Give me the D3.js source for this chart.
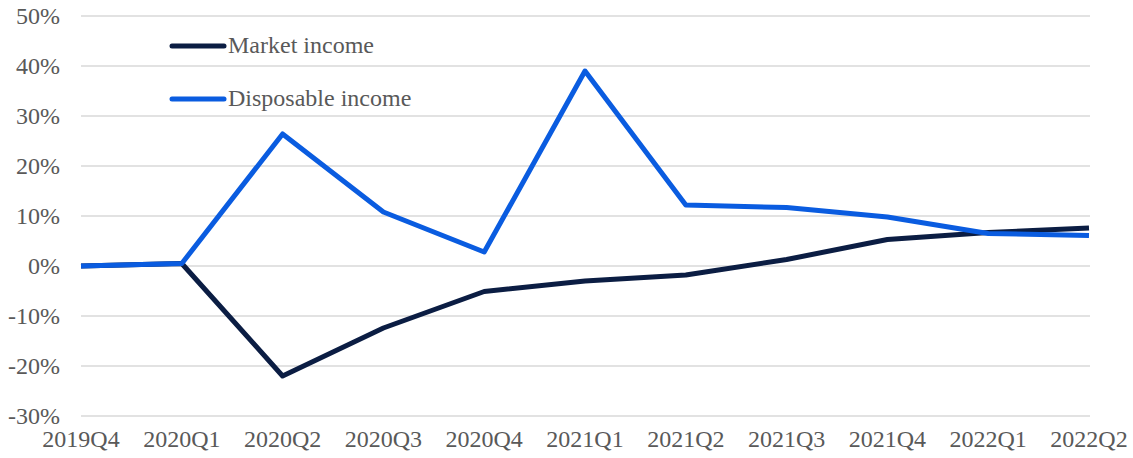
<!DOCTYPE html>
<html>
<head>
<meta charset="utf-8">
<script src="https://cdn.jsdelivr.net/npm/d3@7"></script>
<style>
  body { margin: 0; background: #fff; }
  svg text { font-family: "Liberation Serif", "Times New Roman", serif; fill: #595959; }
</style>
</head>
<body>
<svg id="chart" width="1133" height="458"></svg>
<script>
const quarters = ['2019Q4', '2020Q1', '2020Q2', '2020Q3', '2020Q4', '2021Q1', '2021Q2', '2021Q3', '2021Q4', '2022Q1', '2022Q2'];
const market_income = [0, 0.5, -22, -12.4, -5.1, -3, -1.8, 1.3, 5.3, 6.7, 7.6];
const disposable_income = [0, 0.5, 26.4, 10.8, 2.8, 39, 12.2, 11.7, 9.8, 6.5, 6.1];
const y_ticks = [-30, -20, -10, 0, 10, 20, 30, 40, 50];

const svg = d3.select('#chart');
const xScale = d3.scalePoint().domain(quarters).range([81, 1089]);
const yScale = d3.scaleLinear().domain([-30, 50]).range([416, 16]);

// gridlines
svg.append('g').selectAll('line').data(y_ticks).enter().append('line')
  .attr('x1', 81).attr('x2', 1090)
  .attr('y1', d => yScale(d)).attr('y2', d => yScale(d))
  .attr('stroke', '#d9d9d9').attr('stroke-width', 1.3);

// y labels
svg.append('g').selectAll('text').data(y_ticks).enter().append('text')
  .attr('x', 60).attr('y', d => yScale(d) + 8)
  .attr('text-anchor', 'end').attr('font-size', 24)
  .text(d => d + '%');

// x labels
svg.append('g').selectAll('text').data(quarters).enter().append('text')
  .attr('x', d => xScale(d)).attr('y', 447)
  .attr('text-anchor', 'middle').attr('font-size', 24)
  .text(d => d);

const series = [
  {name: 'Market income', values: market_income, color: '#0b1d43'},
  {name: 'Disposable income', values: disposable_income, color: '#0a5ce0'}
];

const line = d3.line()
  .x((d, i) => xScale(quarters[i]))
  .y(d => yScale(d));

// market first, disposable on top (as in the reference)
svg.append('path').datum(market_income)
  .attr('d', line).attr('fill', 'none')
  .attr('stroke', series[0].color).attr('stroke-width', 5).attr('stroke-linejoin', 'round');
svg.append('path').datum(disposable_income)
  .attr('d', line).attr('fill', 'none')
  .attr('stroke', series[1].color).attr('stroke-width', 5).attr('stroke-linejoin', 'round');

// legend
const legend = svg.append('g').selectAll('g').data(series).enter().append('g')
  .attr('transform', (d, i) => 'translate(0,' + (46 + i * 53) + ')');
legend.append('line')
  .attr('x1', 172).attr('x2', 224).attr('y1', 0).attr('y2', 0)
  .attr('stroke', d => d.color).attr('stroke-width', 5).attr('stroke-linecap', 'round');
legend.append('text')
  .attr('x', 228).attr('y', 7).attr('font-size', 24)
  .text(d => d.name);
</script>
</body>
</html>
